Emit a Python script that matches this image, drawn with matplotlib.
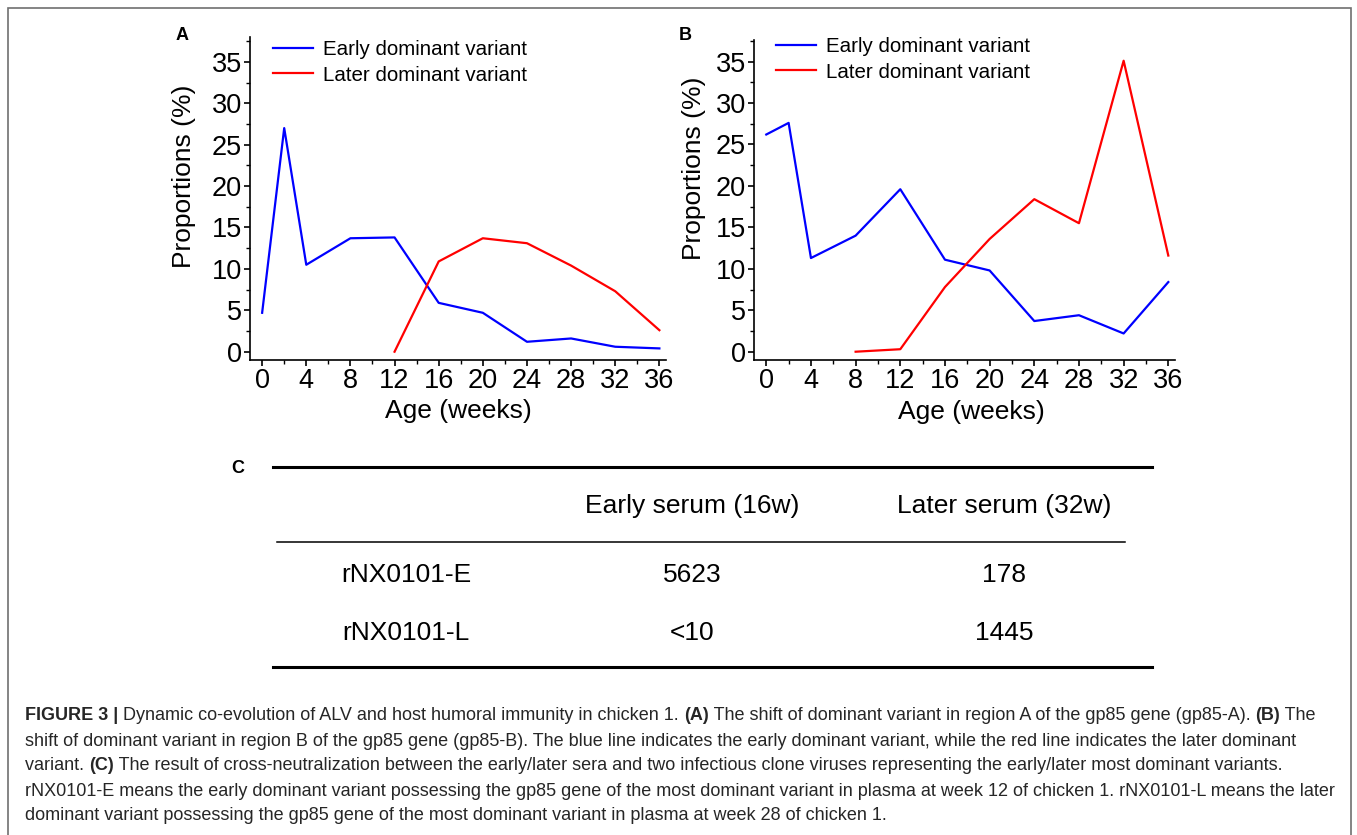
import matplotlib
matplotlib.use("Agg")
import matplotlib.pyplot as plt
from matplotlib.patches import Rectangle
from matplotlib.lines import Line2D
from matplotlib.text import Annotation
from matplotlib.ticker import MultipleLocator

plt.rcParams['font.family'] = ['Liberation Sans', 'DejaVu Sans']

# --- data ---
weeks = [0, 2, 4, 8, 12, 16, 20, 24, 28, 32, 36]
later_weeks_a = [12, 16, 20, 24, 28, 32, 36]
later_weeks_b = [8, 12, 16, 20, 24, 28, 32, 36]

early_a = [4.7, 27.0, 10.5, 13.7, 13.8, 5.9, 4.7, 1.2, 1.6, 0.6, 0.4]
later_a = [0.0, 10.9, 13.7, 13.1, 10.4, 7.3, 2.6]

early_b = [26.2, 27.6, 11.3, 14.0, 19.6, 11.1, 9.8, 3.7, 4.4, 2.2, 8.4]
later_b = [0.0, 0.3, 7.8, 13.6, 18.4, 15.5, 35.1, 11.6]

series_labels = ["Early dominant variant", "Later dominant variant"]

table_cols = ["Early serum (16w)", "Later serum (32w)"]
table_rows = ["rNX0101-E", "rNX0101-L"]
table_vals = [["5623", "178"], ["<10", "1445"]]

caption = [
    [("FIGURE 3 |", True), (" Dynamic co-evolution of ALV and host humoral immunity in chicken 1. ", False),
     ("(A)", True), (" The shift of dominant variant in region A of the gp85 gene (gp85-A). ", False),
     ("(B)", True), (" The", False)],
    [("shift of dominant variant in region B of the gp85 gene (gp85-B). The blue line indicates the early "
      "dominant variant, while the red line indicates the later dominant", False)],
    [("variant. ", False), ("(C)", True),
     (" The result of cross-neutralization between the early/later sera and two infectious clone viruses "
      "representing the early/later most dominant variants.", False)],
    [("rNX0101-E means the early dominant variant possessing the gp85 gene of the most dominant variant "
      "in plasma at week 12 of chicken 1. rNX0101-L means the later", False)],
    [("dominant variant possessing the gp85 gene of the most dominant variant in plasma at week 28 of "
      "chicken 1.", False)],
]

W, H = 1357, 835
fig = plt.figure(figsize=(W / 100, H / 100), dpi=100)


def fx(px):
    return px / W


def fy(py):
    return 1 - py / H


def setup_axes(ax, ylim, ylab_xy, xlab_xy):
    ax.set_xlim(-1.1, 36.6)
    ax.set_ylim(*ylim)
    ax.spines['top'].set_visible(False)
    ax.spines['right'].set_visible(False)
    for s in ('left', 'bottom'):
        ax.spines[s].set_linewidth(1.2)
    ax.xaxis.set_major_locator(MultipleLocator(4))
    ax.xaxis.set_minor_locator(MultipleLocator(2))
    ax.yaxis.set_major_locator(MultipleLocator(5))
    ax.yaxis.set_minor_locator(MultipleLocator(2.5))
    ax.tick_params(which='major', direction='out', length=4.5, width=1.2, labelsize=19.5, pad=1.5)
    ax.tick_params(which='minor', direction='out', length=3, width=1.0)
    ax.set_xlabel("Age (weeks)", fontsize=19)
    ax.set_ylabel("Proportions (%)", fontsize=19)
    ax.xaxis.label.set_va('center')
    ax.yaxis.label.set_va('center')
    ax.yaxis.set_label_coords(*ylab_xy)
    ax.xaxis.set_label_coords(*xlab_xy)


def add_legend(ax, x0, ytop):
    handles = [Line2D([], [], color='#0000ff', lw=1.6), Line2D([], [], color='#ff0000', lw=1.6)]
    ax.legend(handles, series_labels, loc='upper left', bbox_to_anchor=(fx(x0), fy(ytop)),
              bbox_transform=fig.transFigure, frameon=False, fontsize=14.8, borderpad=0,
              borderaxespad=0, handlelength=1.95, handletextpad=0.5, labelspacing=0.32)


# panel A
ax_a = fig.add_axes([fx(250), fy(360), fx(416), 323 / H])
ax_a.plot(weeks, early_a, color='#0000ff', lw=1.6)
ax_a.plot(later_weeks_a, later_a, color='#ff0000', lw=1.6)
setup_axes(ax_a, (-1, 38), (-0.158, 0.568), (0.5, -0.158))
add_legend(ax_a, 273, 40)

# panel B
ax_b = fig.add_axes([fx(754), fy(360), fx(421), 320 / H])
ax_b.plot(weeks, early_b, color='#0000ff', lw=1.6)
ax_b.plot(later_weeks_b, later_b, color='#ff0000', lw=1.6)
setup_axes(ax_b, (-1, 37.6), (-0.143, 0.60), (0.517, -0.163))
add_legend(ax_b, 776, 37)

# panel letters
fig.text(fx(182), fy(35), "A", fontsize=13, fontweight='bold', ha='center', va='center')
fig.text(fx(685), fy(35), "B", fontsize=13, fontweight='bold', ha='center', va='center')
fig.text(fx(238), fy(468), "C", fontsize=13, fontweight='bold', ha='center', va='center')

# table C
fig.add_artist(Line2D([fx(273), fx(1152)], [fy(467), fy(467)], color='black', lw=2.2))
fig.add_artist(Line2D([fx(277), fx(1125)], [fy(542), fy(542)], color='black', lw=1.1))
fig.add_artist(Line2D([fx(273), fx(1152)], [fy(667), fy(667)], color='black', lw=2.2))
col_x = [692, 1004]
row_y = [575, 633]
for cx, name in zip(col_x, table_cols):
    fig.text(fx(cx), fy(506), name, fontsize=19, ha='center', va='center')
for ry, rname, vals in zip(row_y, table_rows, table_vals):
    fig.text(fx(406), fy(ry), rname, fontsize=19, ha='center', va='center')
    for cx, v in zip(col_x, vals):
        fig.text(fx(cx), fy(ry), v, fontsize=19, ha='center', va='center')

# caption
cap_y = [715, 741, 766, 791, 816]
for ly, segs in zip(cap_y, caption):
    prev = None
    for txt, bold in segs:
        kw = dict(fontsize=13.0, color='#262626', fontweight='bold' if bold else 'normal')
        if prev is None:
            prev = fig.text(fx(25), fy(ly), txt, ha='left', va='center', **kw)
        else:
            prev = fig.add_artist(Annotation(txt, xy=(1, 0), xycoords=prev, ha='left', va='bottom', **kw))

# outer frame
fig.add_artist(Rectangle((fx(7.5), -0.05), fx(1343), fy(8) + 0.05, transform=fig.transFigure,
                         fill=False, edgecolor='#707070', lw=1.2))

fig.savefig("out.png", dpi=100)
